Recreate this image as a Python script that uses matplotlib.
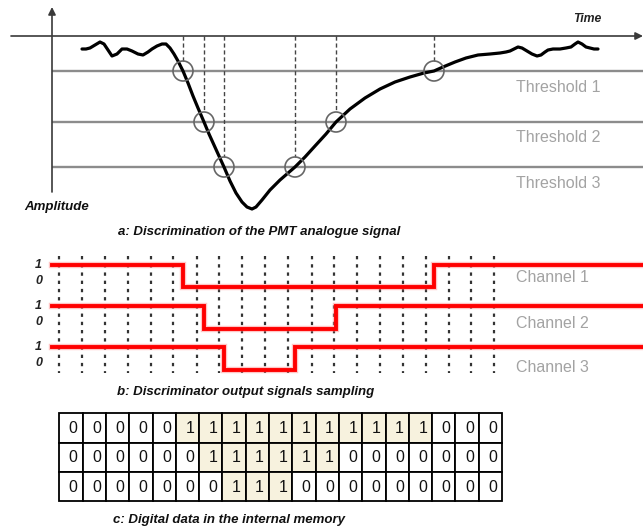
import matplotlib
matplotlib.use("Agg")
import matplotlib.pyplot as plt
from matplotlib.patches import Circle, Rectangle

plt.rcParams['font.family'] = ['Liberation Sans', 'DejaVu Sans']

# ---------------- data (diagram units: x = time, y = amplitude, drawn downward) ----------------
signal_t = [82, 86, 90, 95, 100, 104, 108, 112, 117, 122, 127, 132, 138, 143, 148, 152, 157,
            162, 166, 170, 174, 178, 183, 188, 193, 198, 204, 209, 214, 219, 224, 230, 236,
            242, 247, 252, 256, 262, 270, 280, 295, 305, 315, 326, 336, 350, 365, 380, 395,
            410, 424, 434, 443, 455, 466, 478, 490, 500, 506, 510, 514, 518, 522, 527, 532,
            537, 541, 545, 548, 553, 560, 566, 571, 575, 578, 582, 586, 590, 594, 598]
signal_a = [49, 49, 48, 45, 42, 44, 50, 56, 54, 49, 49, 51, 54, 55, 52, 49, 46,
            44, 44, 48, 54, 61, 71, 83, 96, 108, 122, 134, 145, 156, 167, 181, 193,
            202, 207, 209, 207, 200, 190, 180, 167, 157, 146, 134, 122, 109, 98, 89, 82,
            77, 73, 71, 67, 62, 58, 55, 54, 53, 52, 51, 49, 47, 48, 51, 54,
            56, 55, 52, 50, 49, 49, 48, 47, 44, 42, 44, 47, 48, 49, 49]

threshold_levels = [71, 122, 167]
threshold_labels = ["Threshold 1", "Threshold 2", "Threshold 3"]

# crossing times (fall, rise) for each threshold / channel
crossings = [(183, 434), (204, 336), (224, 295)]

channel_labels = ["Channel 1", "Channel 2", "Channel 3"]

sample_times = [59, 82, 105, 128, 151, 173, 197, 219, 242, 265, 288, 312, 334, 357,
                380, 403, 426, 449, 471, 494]

memory_bits = [
    [0, 0, 0, 0, 0, 1, 1, 1, 1, 1, 1, 1, 1, 1, 1, 1, 0, 0, 0],
    [0, 0, 0, 0, 0, 0, 1, 1, 1, 1, 1, 1, 0, 0, 0, 0, 0, 0, 0],
    [0, 0, 0, 0, 0, 0, 0, 1, 1, 1, 0, 0, 0, 0, 0, 0, 0, 0, 0],
]

captions = ["a: Discrimination of the PMT analogue signal",
            "b: Discriminator output signals sampling",
            "c: Digital data in the internal memory"]

# ---------------- figure ----------------
fig = plt.figure(figsize=(6.43, 5.30), dpi=100)
ax = fig.add_axes([0, 0, 1, 1])
ax.set_xlim(0, 643)
ax.set_ylim(530, 0)
ax.axis('off')

axis_col = '#3a3a3a'
gray_line = '#8c8c8c'
label_gray = '#a3a3a3'

# ---- panel a ----
ax.annotate('', xy=(52, 7), xytext=(52, 192),
            arrowprops=dict(arrowstyle='-|>', color=axis_col, lw=1.2, mutation_scale=11,
                            shrinkA=0, shrinkB=0))
ax.annotate('', xy=(643, 36), xytext=(11, 36),
            arrowprops=dict(arrowstyle='-|>', color=axis_col, lw=1.2, mutation_scale=11,
                            shrinkA=0, shrinkB=0))
ax.text(601, 19, "Time", ha='right', va='center', fontsize=8.8, fontweight='bold',
        fontstyle='italic', color='#222222')
ax.text(24, 207, "Amplitude", ha='left', va='center', fontsize=9.5, fontweight='bold',
        fontstyle='italic', color='#111111')

for lvl, lab in zip(threshold_levels, threshold_labels):
    ax.plot([52, 643], [lvl, lvl], color=gray_line, lw=1.7, solid_capstyle='butt', zorder=1)
    ax.text(516, lvl + 16, lab, ha='left', va='center', fontsize=11.5, color=label_gray)

r = 10
for lvl, (t0, t1) in zip(threshold_levels, crossings):
    for t in (t0, t1):
        ax.plot([t, t], [36, lvl - r], color='#444444', lw=1.0, ls=(0, (3, 2)), zorder=2)
        ax.add_patch(Circle((t, lvl), r, fill=False, ec='#666666', lw=1.2, zorder=4))

ax.plot(signal_t, signal_a, color='black', lw=2.3, solid_joinstyle='round',
        solid_capstyle='round', zorder=3)

ax.text(118, 232, captions[0], ha='left', va='center', fontsize=9.5, fontweight='bold',
        fontstyle='italic', color='#111111')

# ---- panel b ----
high_y = [265, 306, 347]
low_y = [287, 329, 370]
channel_label_y = [278, 324, 368]

for t in sample_times:
    ax.plot([t, t], [256, 373], color='#333333', lw=1.6, ls=(0, (1.5, 2.2)), zorder=2)

for hy, ly, (t0, t1) in zip(high_y, low_y, crossings):
    xs = [52, t0, t0, t1, t1, 643]
    ys = [hy, hy, ly, ly, hy, hy]
    ax.plot(xs, ys, color='#ff8080', lw=4.6, alpha=0.45, solid_joinstyle='miter', zorder=3)
    ax.plot(xs, ys, color='#ff0000', lw=2.8, solid_joinstyle='miter', zorder=4)
    ax.text(42, hy, "1", ha='right', va='center', fontsize=9, fontweight='bold',
            fontstyle='italic', color='#222222')
    ax.text(42, hy + 16, "0", ha='right', va='center', fontsize=9, fontweight='bold',
            fontstyle='italic', color='#222222')

for ly, lab in zip(channel_label_y, channel_labels):
    ax.text(516, ly, lab, ha='left', va='center', fontsize=11.5, color=label_gray)

ax.text(117, 392, captions[1], ha='left', va='center', fontsize=9.5, fontweight='bold',
        fontstyle='italic', color='#111111')

# ---- panel c ----
x0, y0 = 59.3, 413.3
cw, rh = 23.3, 29.3
for i, row in enumerate(memory_bits):
    for j, b in enumerate(row):
        fc = '#f7f2de' if b else 'white'
        ax.add_patch(Rectangle((x0 + j * cw, y0 + i * rh), cw, rh, fc=fc, ec='black',
                               lw=1.3, zorder=2))
        ax.text(x0 + j * cw + cw * 0.6, y0 + i * rh + rh / 2 + 0.5, str(b), ha='center',
                va='center', fontsize=11.5, color='#111111', zorder=3)

ax.text(113, 520, captions[2], ha='left', va='center', fontsize=9.5, fontweight='bold',
        fontstyle='italic', color='#111111')

fig.savefig("out.png", dpi=100, facecolor='white')
